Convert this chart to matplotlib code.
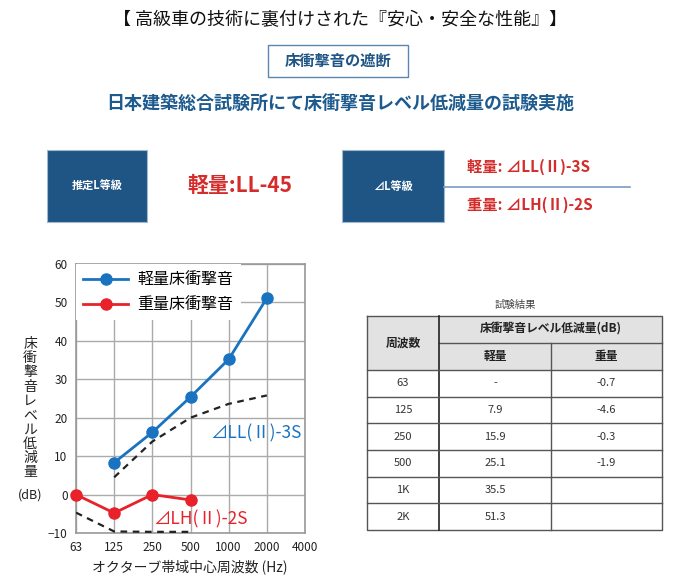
import matplotlib
matplotlib.use("Agg")
import matplotlib.pyplot as plt
from matplotlib.patches import Rectangle

plt.rcParams['font.family'] = ['Noto Sans CJK JP', 'DejaVu Sans']

# ---- data ----
freq_labels = ["63", "125", "250", "500", "1000", "2000", "4000"]
light_idx = [1, 2, 3, 4, 5]
light_vals = [8.3, 16.2, 25.4, 35.2, 51.1]
heavy_idx = [0, 1, 2, 3]
heavy_vals = [0.0, -4.8, 0.0, -1.4]
ll_ref_idx = [1, 2, 3, 4, 5]
ll_ref_vals = [4.5, 13.8, 20.0, 23.6, 25.8]
lh_ref_idx = [0, 1, 2, 3]
lh_ref_vals = [-4.7, -9.6, -9.7, -9.7]

table_freq = ["63", "125", "250", "500", "1K", "2K"]
table_light = ["-", "7.9", "15.9", "25.1", "35.5", "51.3"]
table_heavy = ["-0.7", "-4.6", "-0.3", "-1.9", "", ""]

BLUE = "#1a73c0"
RED = "#e8212a"
NAVY = "#1e5585"
TXT_RED = "#d42b2b"

W, H = 680, 580
fig = plt.figure(figsize=(W / 100, H / 100), dpi=100)

# overlay in pixel coordinates for the poster parts
ov = fig.add_axes([0, 0, 1, 1])
ov.set_xlim(0, W)
ov.set_ylim(H, 0)
ov.axis("off")

ov.text(340, 20, "【 高級車の技術に裏付けされた『安心・安全な性能』】",
        ha="center", va="center", fontsize=13, color="#111111")
ov.add_patch(Rectangle((268, 45), 140, 32, fill=False, ec="#5b86b0", lw=1))
ov.text(338, 61, "床衝撃音の遮断", ha="center", va="center", fontsize=11,
        fontweight="bold", color=NAVY)
ov.text(340, 103, "日本建築総合試験所にて床衝撃音レベル低減量の試験実施",
        ha="center", va="center", fontsize=13, fontweight="bold", color="#1d5a8e")

# grade boxes
ov.add_patch(Rectangle((47, 150), 100, 72, fc=NAVY, ec="#a0b8d0", lw=0.8))
ov.text(97, 186, "推定L等級", ha="center", va="center", fontsize=8,
        fontweight="bold", color="white")
ov.text(240, 186, "軽量:LL-45", ha="center", va="center", fontsize=15,
        fontweight="bold", color=TXT_RED)
ov.add_patch(Rectangle((342, 150), 102, 72, fc=NAVY, ec="#a0b8d0", lw=0.8))
ov.text(393, 186, "⊿L等級", ha="center", va="center", fontsize=8,
        fontweight="bold", color="white")
ov.plot([444, 630], [187, 187], color="#7a9cc0", lw=1.2)
ov.text(467, 167, "軽量: ⊿LL(Ⅱ)-3S", ha="left", va="center", fontsize=11,
        fontweight="bold", color=TXT_RED)
ov.text(467, 205, "重量: ⊿LH(Ⅱ)-2S", ha="left", va="center", fontsize=11,
        fontweight="bold", color=TXT_RED)

# ---- chart ----
ax = fig.add_axes([76 / W, 1 - 533 / H, 229 / W, 269 / H])
ax.plot(light_idx, light_vals, color=BLUE, lw=2, marker="o", markersize=8,
        label="軽量床衝撃音", zorder=4, clip_on=False)
ax.plot(heavy_idx, heavy_vals, color=RED, lw=2, marker="o", markersize=8,
        label="重量床衝撃音", zorder=4, clip_on=False)
ax.plot(ll_ref_idx, ll_ref_vals, color="#222222", ls=(0, (3, 2.5)), lw=1.6, zorder=3)
ax.plot(lh_ref_idx, lh_ref_vals, color="#222222", ls=(0, (3, 2.5)), lw=1.6, zorder=3)

ax.set_xlim(0, len(freq_labels) - 1)
ax.set_ylim(-10, 60)
ax.set_xticks(range(len(freq_labels)))
ax.set_xticklabels(freq_labels)
ax.set_yticks(range(-10, 61, 10))
ax.tick_params(length=0, labelsize=8.5, colors="#222222", pad=6)
ax.grid(True, color="#aaaaaa", lw=1)
for s in ax.spines.values():
    s.set_color("#999999")
    s.set_linewidth(1.2)

leg = ax.legend(loc="upper left", fontsize=11.5, frameon=True, fancybox=False,
                borderaxespad=0, handlelength=2.8, borderpad=0.45, labelspacing=0.5,
                handletextpad=0.6)
leg.get_frame().set_edgecolor("none")
leg.get_frame().set_alpha(1)

ax.text(5.92, 16, "⊿LL(Ⅱ)-3S", ha="right", va="center", fontsize=12.5, color=BLUE)
ax.text(4.5, -6.4, "⊿LH(Ⅱ)-2S", ha="right", va="center", fontsize=12.5, color=RED)

ov.text(30, 408, "\n".join("床衝撃音レベル低減量"), ha="center", va="center",
        fontsize=10, color="#222222", linespacing=1.02)
ov.text(30, 495, "(dB)", ha="center", va="center", fontsize=9, color="#222222")
ov.text(190, 567, "オクターブ帯域中心周波数 (Hz)", ha="center", va="center",
        fontsize=10, color="#222222")

# ---- table ----
ov.text(515, 305, "試験結果", ha="center", va="center", fontsize=7.5, color="#444444")
tx0, tx1, tx2, tx3 = 367, 439, 551, 662
ty0 = 316
hrow = 27
drow = (530 - (ty0 + 2 * hrow)) / len(table_freq)
ov.add_patch(Rectangle((tx0, ty0), tx3 - tx0, 2 * hrow, fc="#e2e2e2", ec="none"))
line_kw = dict(color="#555555", lw=1)
ov.plot([tx0, tx3, tx3, tx0, tx0], [ty0, ty0, 530, 530, ty0], **line_kw)
ov.plot([tx1, tx3], [ty0 + hrow] * 2, **line_kw)
ov.plot([tx1, tx1], [ty0, 530], color="#222222", lw=1.2)
ov.plot([tx2, tx2], [ty0 + hrow, 530], **line_kw)
for i in range(len(table_freq)):
    yy = ty0 + 2 * hrow + i * drow
    ov.plot([tx0, tx3], [yy, yy], **line_kw)
ov.text((tx0 + tx1) / 2, ty0 + hrow, "周波数", ha="center", va="center",
        fontsize=8.5, fontweight="bold", color="#222222")
ov.text((tx1 + tx3) / 2, ty0 + hrow / 2, "床衝撃音レベル低減量(dB)", ha="center",
        va="center", fontsize=8.5, fontweight="bold", color="#222222")
ov.text((tx1 + tx2) / 2, ty0 + 1.5 * hrow, "軽量", ha="center", va="center",
        fontsize=8.5, fontweight="bold", color="#222222")
ov.text((tx2 + tx3) / 2, ty0 + 1.5 * hrow, "重量", ha="center", va="center",
        fontsize=8.5, fontweight="bold", color="#222222")
for i, (f, l, h) in enumerate(zip(table_freq, table_light, table_heavy)):
    yc = ty0 + 2 * hrow + (i + 0.5) * drow
    ov.text((tx0 + tx1) / 2, yc, f, ha="center", va="center", fontsize=8, color="#333333")
    ov.text((tx1 + tx2) / 2, yc, l, ha="center", va="center", fontsize=8, color="#333333")
    ov.text((tx2 + tx3) / 2, yc, h, ha="center", va="center", fontsize=8, color="#333333")

fig.savefig("out.png", dpi=100)
